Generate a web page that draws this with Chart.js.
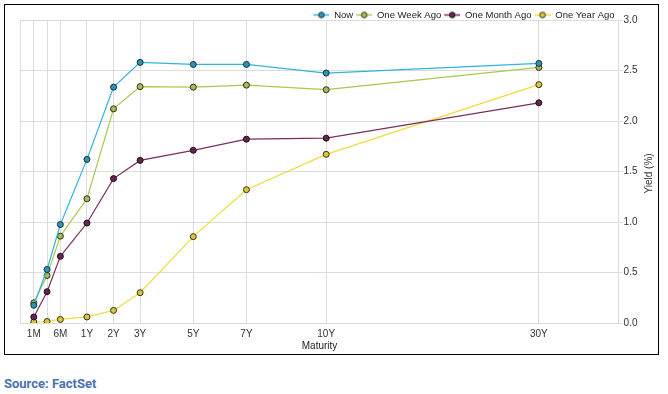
<!DOCTYPE html>
<html><head><meta charset="utf-8">
<script src="https://cdn.jsdelivr.net/npm/chart.js@4.4.0/dist/chart.umd.min.js"></script>
<style>
html,body{margin:0;padding:0;background:#fff;width:668px;height:394px;overflow:hidden}
#frame{position:absolute;left:4px;top:4px;width:653px;height:349px;border:1px solid #000}
#c{display:block}
#src{position:absolute;left:4px;top:376px;line-height:15px;font:bold 13px Roboto,"Liberation Sans",sans-serif;color:#4a71b0}
</style></head><body>
<div id="frame"><canvas id="c" width="653" height="349"></canvas></div>
<div id="src">Source: FactSet</div>
<script>
const maturityLabels = ['1M','3M','6M','1Y','2Y','3Y','5Y','7Y','10Y','30Y'];
const tickLabels = ['1M','','6M','1Y','2Y','3Y','5Y','7Y','10Y','30Y'];
const maturityPos = [0,0.5,1,2,3,4,6,8,11,19];
const seriesNames = ['Now','One Week Ago','One Month Ago','One Year Ago'];
const nowYield = [0.175,0.53,0.975,1.62,2.335,2.58,2.56,2.56,2.475,2.57];
const weekYield = [0.20,0.47,0.86,1.23,2.12,2.34,2.335,2.355,2.31,2.53];
const monthYield = [0.06,0.31,0.66,0.99,1.43,1.61,1.71,1.82,1.83,2.18];
const yearYield = [0.01,0.015,0.035,0.06,0.125,0.30,0.855,1.32,1.67,2.36];
const yTickValues = [0,0.5,1,1.5,2,2.5,3];
const yTitle = 'Yield (%)';
const xTitle = 'Maturity';

const lineColors = ['#31b3dc','#abc84c','#7a2e5e','#f2dc3c'];
const fillColors = ['#2f93b8','#a3bd56','#642650','#d9c63e'];
const edgeColors = ['#16303a','#2c3318','#1e0c18','#38330f'];

Chart.defaults.font.family = '"Liberation Sans", Arial, sans-serif';
Chart.defaults.font.size = 10;

function toPoints(vals){ return maturityPos.map((x,i)=>({x:x, y:vals[i]})); }

function marker(line, fill, edge){
  const c = document.createElement('canvas'); c.width = 19; c.height = 9;
  const g = c.getContext('2d');
  g.strokeStyle = line; g.lineWidth = 1.5;
  g.beginPath(); g.moveTo(3,4.5); g.lineTo(19,4.5); g.stroke();
  g.beginPath(); g.arc(11,4.5,2.8,0,Math.PI*2);
  g.fillStyle = fill; g.fill(); g.lineWidth = 1; g.strokeStyle = edge; g.stroke();
  return c;
}
const markers = lineColors.map((c,i)=>marker(c, fillColors[i], edgeColors[i]));

const allSeries = [nowYield, weekYield, monthYield, yearYield];
const datasets = allSeries.map((vals,i)=>({
  label: seriesNames[i],
  data: toPoints(vals),
  borderColor: lineColors[i],
  backgroundColor: fillColors[i],
  pointBackgroundColor: fillColors[i],
  pointBorderColor: edgeColors[i],
  pointBorderWidth: 1,
  pointRadius: 3,
  borderWidth: 1.2,
  tension: 0,
  fill: false
}));

const tweak = {
  id: 'tweak',
  afterLayout(chart){
    const l = chart.legend;
    if (l) { l.top += 9.75; l.bottom += 9.75; l.left -= 4; l.right -= 4; }
  },
  afterDraw(chart){
    const ctx = chart.ctx, a = chart.chartArea;
    ctx.save();
    ctx.translate(chart.width - 9, (a.top + a.bottom)/2 + 2);
    ctx.rotate(-Math.PI/2);
    ctx.font = '10px "Liberation Sans", Arial, sans-serif';
    ctx.fillStyle = '#333';
    ctx.textAlign = 'center';
    ctx.textBaseline = 'middle';
    ctx.fillText(yTitle, 0, 0);
    ctx.restore();
  }
};

new Chart(document.getElementById('c'), {
  type: 'line',
  data: { datasets: datasets },
  options: {
    responsive: false,
    animation: false,
    devicePixelRatio: 1,
    layout: { padding: { top: -4.5, left: 15.5, right: 19.5, bottom: 0 } },
    plugins: {
      tooltip: { enabled: false },
      legend: {
        position: 'top',
        align: 'end',
        fullSize: false,
        labels: {
          usePointStyle: true,
          pointStyleWidth: 19,
          padding: 0,
          color: '#222',
          font: { size: 9.5 },
          generateLabels(chart){
            const items = Chart.defaults.plugins.legend.labels.generateLabels(chart);
            items.forEach((it,i)=>{ it.pointStyle = markers[i]; });
            return items;
          }
        }
      }
    },
    scales: {
      x: {
        type: 'linear',
        min: -0.5,
        max: 22,
        afterBuildTicks(axis){ axis.ticks = [axis.min].concat(maturityPos, [axis.max]).map(v=>({value:v})); },
        ticks: {
          autoSkip: false, maxRotation: 0, padding: 5, color: '#333',
          callback(v){ const i = maturityPos.indexOf(v); return i < 0 ? '' : tickLabels[i]; }
        },
        grid: { color: '#dcdcdc', drawTicks: false },
        border: { color: '#dcdcdc' },
        title: { display: true, text: xTitle, color: '#222', font: { size: 10 }, padding: { top: -5, bottom: 2 } }
      },
      y: {
        position: 'right',
        min: 0,
        max: 3,
        afterBuildTicks(axis){ axis.ticks = yTickValues.map(v=>({value:v})); },
        ticks: { padding: 1, color: '#333', callback(v){ return Number(v).toFixed(1); } },
        grid: { color: '#dcdcdc', tickLength: 4 },
        border: { color: '#dcdcdc' }
      }
    }
  },
  plugins: [tweak]
});
</script></body></html>
